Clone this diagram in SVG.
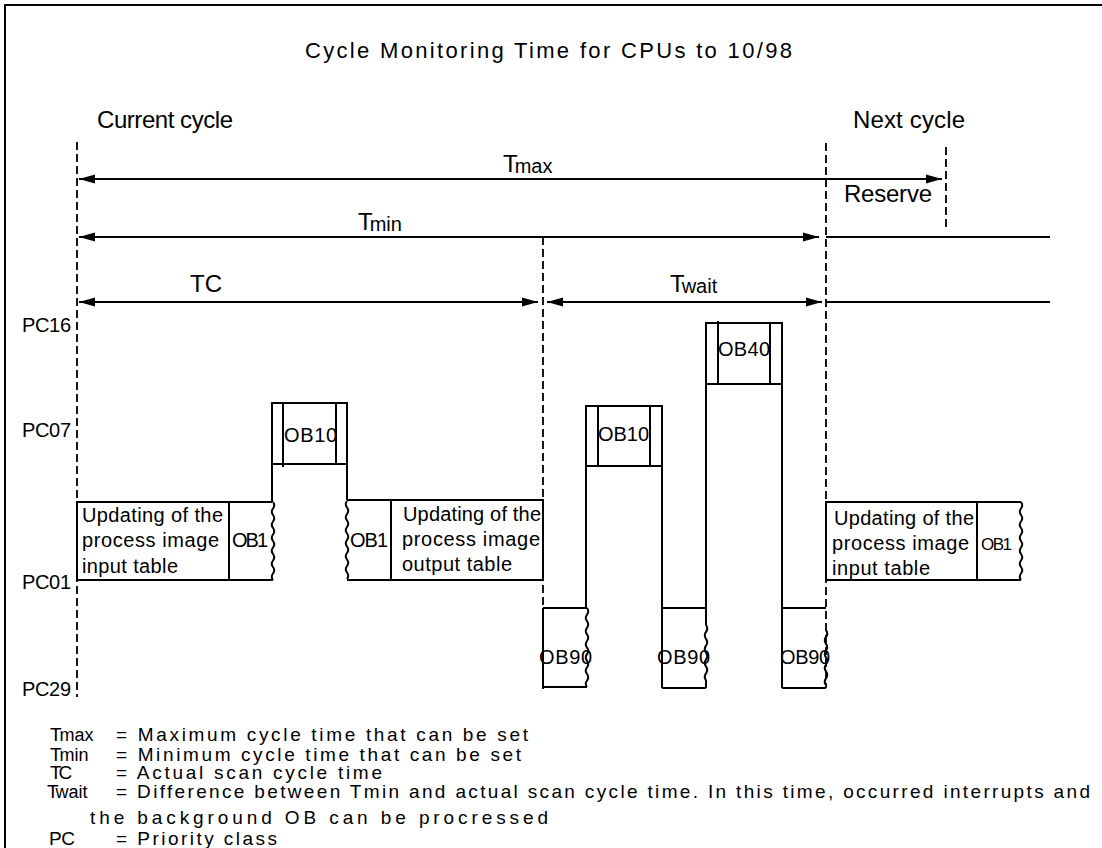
<svg xmlns="http://www.w3.org/2000/svg" width="1102" height="848" viewBox="0 0 1102 848">
<style>
text { font-family: "Liberation Sans", Arial, sans-serif; fill: #000; }
.ln { stroke: #000; stroke-width: 2; fill: none; }
.dash { stroke: #000; stroke-width: 1.8; stroke-dasharray: 8 4; fill: none; }
.box { stroke: #000; stroke-width: 2; fill: #fff; }
.bt { font-size: 20px; }
.lg { font-size: 19px; }
.lbl { font-size: 24px; }
.sub { font-size: 20px; }
</style>
<defs>
<marker id="ah" viewBox="0 -5 16 10" refX="16" refY="0" markerWidth="16" markerHeight="10" markerUnits="userSpaceOnUse" orient="auto-start-reverse">
<path d="M0,-4.5 L16,0 L0,4.5 z" fill="#000"/>
</marker>
</defs>
<rect width="1102" height="848" fill="#fff"/>
<path d="M5,848 V5 H1102" class="ln"/>

<g id="titles">
<text x="305" y="58" font-size="22" textLength="487" lengthAdjust="spacing">Cycle Monitoring Time for CPUs to 10/98</text>
<text x="97" y="128" class="lbl" textLength="136" lengthAdjust="spacing">Current cycle</text>
<text x="853" y="128" class="lbl" textLength="112" lengthAdjust="spacing">Next cycle</text>
</g>

<g id="axis-labels" class="bt">
<text x="22" y="332" textLength="49" lengthAdjust="spacing">PC16</text>
<text x="22" y="437" textLength="49" lengthAdjust="spacing">PC07</text>
<text x="22" y="589" textLength="49" lengthAdjust="spacing">PC01</text>
<text x="22" y="696" textLength="49" lengthAdjust="spacing">PC29</text>
</g>

<g id="connectors">
<line x1="77" y1="142" x2="77" y2="697" class="dash"/>
<line x1="543" y1="237" x2="543" y2="690" class="dash"/>
<line x1="826" y1="143" x2="826" y2="688" class="dash"/>
<line x1="946" y1="147" x2="946" y2="227" class="dash"/>
<line x1="79" y1="179" x2="942" y2="179" class="ln" marker-start="url(#ah)" marker-end="url(#ah)"/>
<line x1="79" y1="237" x2="819" y2="237" class="ln" marker-start="url(#ah)" marker-end="url(#ah)"/>
<line x1="826" y1="237" x2="1050" y2="237" class="ln"/>
<line x1="79" y1="302" x2="538" y2="302" class="ln" marker-start="url(#ah)" marker-end="url(#ah)"/>
<line x1="547" y1="302" x2="822" y2="302" class="ln" marker-start="url(#ah)" marker-end="url(#ah)"/>
<line x1="826" y1="302" x2="1050" y2="302" class="ln"/>
<path d="M272,464 V502 M347,464 V500 M586,466 V608 M662,466 V608 M706,384 V608 M782,384 V608" class="ln"/>
</g>

<g id="dim-labels">
<text x="503" y="172" class="lbl">T<tspan class="sub" dx="-3" dy="1">max</tspan></text>
<text x="358" y="230" class="lbl">T<tspan class="sub" dx="-3" dy="1">min</tspan></text>
<text x="190" y="292" class="lbl">TC</text>
<text x="670" y="292" class="lbl">T<tspan class="sub" dx="-3" dy="1">wait</tspan></text>
<text x="844" y="202" class="lbl" font-size="22" textLength="88" lengthAdjust="spacing">Reserve</text>
</g>

<g id="node-input1" class="bt">
<rect x="77" y="502" width="152" height="78" class="box"/>
<text x="82" y="522" textLength="141" lengthAdjust="spacing">Updating of the</text>
<text x="82" y="547" textLength="137" lengthAdjust="spacing">process image</text>
<text x="82" y="573" textLength="96" lengthAdjust="spacing">input table</text>
</g>

<g id="node-ob1a" class="bt">
<path d="M229,502 H272 M229,580 H273" class="ln"/>
<path d="M273,502 q2.5,3.25 0,6.5 q-2.5,3.25 0,6.5 q2.5,3.25 0,6.5 q-2.5,3.25 0,6.5 q2.5,3.25 0,6.5 q-2.5,3.25 0,6.5 q2.5,3.25 0,6.5 q-2.5,3.25 0,6.5 q2.5,3.25 0,6.5 q-2.5,3.25 0,6.5 q2.5,3.25 0,6.5 q-2.5,3.25 0,6.5" class="ln" stroke-width="1.5"/>
<text x="232" y="547" textLength="36" lengthAdjust="spacing">OB1</text>
</g>

<g id="node-ob10a" class="bt">
<rect x="272" y="403" width="75" height="61" class="box"/>
<path d="M283,403 V467 M336,403 V464" class="ln"/>
<text x="284" y="442" textLength="53" lengthAdjust="spacing">OB10</text>
</g>

<g id="node-ob1b" class="bt">
<path d="M347,500 H391 M347,580 H391" class="ln"/>
<path d="M347,501 q-2.5,3.25 0,6.5 q2.5,3.25 0,6.5 q-2.5,3.25 0,6.5 q2.5,3.25 0,6.5 q-2.5,3.25 0,6.5 q2.5,3.25 0,6.5 q-2.5,3.25 0,6.5 q2.5,3.25 0,6.5 q-2.5,3.25 0,6.5 q2.5,3.25 0,6.5 q-2.5,3.25 0,6.5 q2.5,3.25 0,6.5" class="ln" stroke-width="1.5"/>
<text x="350" y="547" textLength="38" lengthAdjust="spacing">OB1</text>
</g>

<g id="node-output" class="bt">
<rect x="391" y="500" width="152" height="80" class="box"/>
<text x="403" y="521" textLength="138" lengthAdjust="spacing">Updating of the</text>
<text x="402" y="546" textLength="138" lengthAdjust="spacing">process image</text>
<text x="402" y="571" textLength="110" lengthAdjust="spacing">output table</text>
</g>

<g id="node-ob90a" class="bt">
<path d="M543,608 H587 M543,687 H587 M543,608 V687" class="ln"/>
<path d="M587,608 q2.5,3.3 0,6.6 q-2.5,3.3 0,6.6 q2.5,3.3 0,6.6 q-2.5,3.3 0,6.6 q2.5,3.3 0,6.6 q-2.5,3.3 0,6.6 q2.5,3.3 0,6.6 q-2.5,3.3 0,6.6 q2.5,3.3 0,6.6 q-2.5,3.3 0,6.6 q2.5,3.3 0,6.6 q-2.5,3.3 0,6.6" class="ln" stroke-width="1.5"/>
<text x="539" y="664" textLength="53" lengthAdjust="spacing">OB90</text>
</g>

<g id="node-ob10b" class="bt">
<rect x="586" y="406" width="76" height="60" class="box"/>
<path d="M598,406 V466 M650,406 V466" class="ln"/>
<text x="598" y="441" textLength="51" lengthAdjust="spacing">OB10</text>
</g>

<g id="node-ob90b" class="bt">
<path d="M662,608 H706 M662,688 H706 M662,608 V688 M706,608 V625 M706,680 V688" class="ln"/>
<path d="M706,625 q2.5,3.4 0,6.9 q-2.5,3.4 0,6.9 q2.5,3.4 0,6.9 q-2.5,3.4 0,6.9 q2.5,3.4 0,6.9 q-2.5,3.4 0,6.9 q2.5,3.4 0,6.9 q-2.5,3.4 0,6.9" class="ln" stroke-width="1.5"/>
<text x="657" y="664" textLength="53" lengthAdjust="spacing">OB90</text>
</g>

<g id="node-ob40" class="bt">
<rect x="706" y="323" width="76" height="61" class="box"/>
<path d="M718,321 V384 M770,323 V384" class="ln"/>
<text x="718" y="356" textLength="52" lengthAdjust="spacing">OB40</text>
</g>

<g id="node-ob90c" class="bt">
<path d="M782,608 H826 M782,688 H826 M782,608 V688" class="ln"/>
<path d="M826,630 q2.5,3.4 0,6.9 q-2.5,3.4 0,6.9 q2.5,3.4 0,6.9 q-2.5,3.4 0,6.9 q2.5,3.4 0,6.9 q-2.5,3.4 0,6.9 q2.5,3.4 0,6.9 q-2.5,3.4 0,6.9" class="ln" stroke-width="1.5"/>
<text x="780" y="664" textLength="50" lengthAdjust="spacing">OB90</text>
</g>

<g id="node-input2" class="bt">
<rect x="826" y="502" width="151" height="78" class="box"/>
<text x="834" y="525" textLength="140" lengthAdjust="spacing">Updating of the</text>
<text x="832" y="550" textLength="137" lengthAdjust="spacing">process image</text>
<text x="832" y="575" textLength="98" lengthAdjust="spacing">input table</text>
</g>

<g id="node-ob1c">
<path d="M977,502 H1021 M977,580 H1021" class="ln"/>
<path d="M1021,502 q2.5,3.25 0,6.5 q-2.5,3.25 0,6.5 q2.5,3.25 0,6.5 q-2.5,3.25 0,6.5 q2.5,3.25 0,6.5 q-2.5,3.25 0,6.5 q2.5,3.25 0,6.5 q-2.5,3.25 0,6.5 q2.5,3.25 0,6.5 q-2.5,3.25 0,6.5 q2.5,3.25 0,6.5 q-2.5,3.25 0,6.5" class="ln" stroke-width="1.5"/>
<text x="981" y="550" font-size="17" textLength="31" lengthAdjust="spacing">OB1</text>
</g>

<g id="legend" class="lg">
<text x="50" y="741">T<tspan dx="-2" font-size="18">max</tspan></text>
<text x="116" y="741" textLength="412" lengthAdjust="spacing">= Maximum cycle time that can be set</text>
<text x="50" y="761">T<tspan dx="-2" font-size="18">min</tspan></text>
<text x="116" y="761" textLength="405" lengthAdjust="spacing">= Minimum cycle time that can be set</text>
<text x="50" y="779">T<tspan dx="-3">C</tspan></text>
<text x="116" y="779" textLength="266" lengthAdjust="spacing">= Actual scan cycle time</text>
<text x="47" y="798">T<tspan dx="-3" font-size="18">wait</tspan></text>
<text x="116" y="798" textLength="974" lengthAdjust="spacing">= Difference between Tmin and actual scan cycle time. In this time, occurred interrupts and</text>
<text x="90" y="824" textLength="458" lengthAdjust="spacing">the background OB can be procressed</text>
<text x="49" y="845" textLength="26" lengthAdjust="spacing">PC</text>
<text x="116" y="845" textLength="161" lengthAdjust="spacing">= Priority class</text>
</g>
</svg>
